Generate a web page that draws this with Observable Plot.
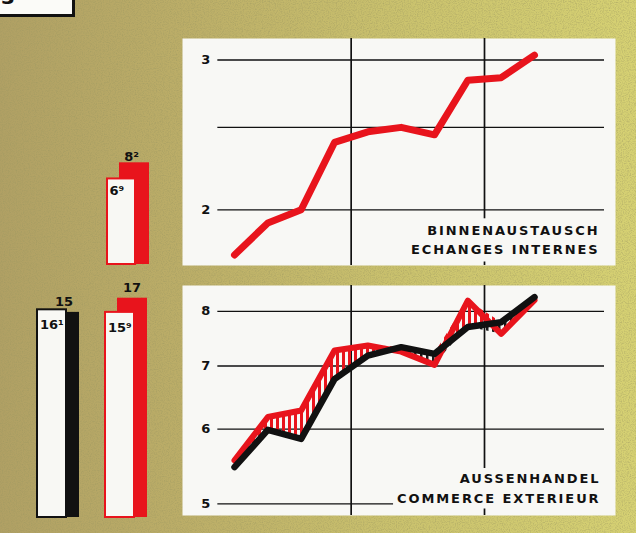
<!DOCTYPE html>
<html>
<head>
<meta charset="utf-8">
<script src="https://cdn.jsdelivr.net/npm/d3@7"></script>
<script src="https://cdn.jsdelivr.net/npm/@observablehq/plot@0.6"></script>
<style>
html, body { margin: 0; padding: 0; background: #c4b86c; }
#stage { position: relative; width: 636px; height: 533px; overflow: hidden;
  background: linear-gradient(90deg, #b0a064 0%, #bcae68 30%, #cbc36e 65%, #d6d173 100%); }
#stage > svg { position: absolute; left: 0; top: 0; }
#tag { position: absolute; left: -3px; top: -6px; width: 73px; height: 18px; background: #fbfbf8;
  border: 2px solid #111; border-right-width: 3px; border-bottom-width: 3px; overflow: hidden; }
#tag span { position: absolute; left: 2px; top: -11px; font: bold 20px "DejaVu Sans", sans-serif; color: #111; letter-spacing: 2px; }
</style>
</head>
<body>
<div id="stage">
  <svg id="tex" width="636" height="533">
    <defs>
      <filter id="noise" x="0" y="0" width="100%" height="100%">
        <feTurbulence type="fractalNoise" baseFrequency="0.85" numOctaves="2" seed="7"/>
        <feColorMatrix type="matrix" values="0 0 0 0 0.33  0 0 0 0 0.31  0 0 0 0 0.12  0 0 0 1.8 -0.75"/>
      </filter>
      <pattern id="hatchRed" patternUnits="userSpaceOnUse" width="6" height="6">
        <rect x="0" y="0" width="3" height="6" fill="#e8141c"/>
      </pattern>
      <pattern id="hatchDark" patternUnits="userSpaceOnUse" width="6" height="6">
        <rect x="0" y="0" width="2.5" height="6" fill="#1a1a1a"/>
      </pattern>
    </defs>
    <rect width="636" height="533" filter="url(#noise)" opacity="0.6"/>
  </svg>
  <div id="tag"><span>3 - 611</span></div>
</div>
<script>
// ---------- data ----------
const quarters = [0, 1, 2, 3, 4, 5, 6, 7, 8, 9];            // quarterly observations
const internalTrade = [1.77, 1.93, 2.00, 2.40, 2.47, 2.50, 2.45, 2.84, 2.86, 3.04];
const foreignRed   = [5.56, 6.18, 6.28, 7.27, 7.36, 7.25, 7.02, 8.21, 7.57, 8.22];
const foreignBlack = [5.47, 5.99, 5.86, 6.78, 7.18, 7.33, 7.21, 7.70, 7.79, 8.28];
const yearBounds = [3.5, 7.5];          // year boundaries in quarter units
const gridFrom = -0.5, gridTo = 11.1;   // extent of horizontal grid (quarter units)
const topTicks = [2, 2.5, 3];
const topTickLabels = [2, 3];
const bottomTicks = [5, 6, 7, 8];

const binGroups = ["Binnen"];
const binWhite = [6.9];
const binColored = [8.2];
const binWhiteLabels = ["6⁹"];
const binColoredLabels = ["8²"];

const extGroups = ["A", "B"];
const extWhite = [16.1, 15.9];
const extColored = [15.9, 17.0];
const extColors = ["#111111", "#e8141c"];
const extWhiteLabels = ["16¹", "15⁹"];
const extColoredLabels = ["15", "17"];

const RED = "#e8141c", BLACK = "#111111", PANEL = "#f8f8f5";
const FONT = "DejaVu Sans, sans-serif";

const internalData = quarters.map((q, i) => ({q, v: internalTrade[i]}));
const foreignData = quarters.map((q, i) => ({q, red: foreignRed[i], black: foreignBlack[i]}));

const stage = document.getElementById("stage");
const xScale = {domain: [-1.56, 11.43], axis: null};
const panelStyle = "background: transparent; overflow: visible; letter-spacing: 1.9px;";

// white knock-out box behind the panel caption (the last text mark of a panel)
function knockout(svg, padX, padY) {
  const groups = svg.querySelectorAll('g[aria-label="text"]');
  const g = groups[groups.length - 1];
  const bb = g.getBBox();
  const r = document.createElementNS("http://www.w3.org/2000/svg", "rect");
  r.setAttribute("x", bb.x - padX);
  r.setAttribute("y", bb.y - padY);
  r.setAttribute("width", bb.width + 2 * padX);
  r.setAttribute("height", bb.height + 2 * padY);
  r.setAttribute("fill", PANEL);
  if (g.getAttribute("transform")) r.setAttribute("transform", g.getAttribute("transform"));
  g.parentNode.insertBefore(r, g);
}

// ---------- top panel: Binnenaustausch ----------
const topPlot = Plot.plot({
  width: 636, height: 533,
  marginLeft: 182, marginRight: 21, marginTop: 38, marginBottom: 268,
  x: xScale,
  y: {type: "log", domain: [1.72, 3.18], axis: null},
  style: panelStyle,
  marks: [
    Plot.frame({fill: PANEL, stroke: null}),
    Plot.ruleY(topTicks, {y: d => d, x1: gridFrom, x2: gridTo, stroke: BLACK, strokeWidth: 1.3}),
    Plot.ruleX(yearBounds, {x: d => d, stroke: BLACK, strokeWidth: 1.7}),
    Plot.text(topTickLabels, {x: gridFrom, y: d => d, text: d => String(d), dx: -11,
      fontFamily: FONT, fontWeight: "bold", fontSize: 13, fill: BLACK}),
    Plot.line(internalData, {x: "q", y: "v", stroke: RED, strokeWidth: 7, strokeLinejoin: "round"}),
    Plot.text(["BINNENAUSTAUSCH\nECHANGES INTERNES"], {
      frameAnchor: "bottom-right", textAnchor: "end", lineAnchor: "bottom", dx: -16, dy: -12,
      lineHeight: 1.4, fontFamily: FONT, fontSize: 13, fontWeight: 600, fill: BLACK})
  ]
});
stage.appendChild(topPlot);
knockout(topPlot, 4, 5);

// ---------- bottom panel: Aussenhandel ----------
const bottomPlot = Plot.plot({
  width: 636, height: 533,
  marginLeft: 182, marginRight: 21, marginTop: 285, marginBottom: 18,
  x: xScale,
  y: {type: "log", domain: [4.86, 8.52], axis: null},
  style: panelStyle,
  marks: [
    Plot.frame({fill: PANEL, stroke: null}),
    Plot.ruleY(bottomTicks, {y: d => d, x1: gridFrom, x2: gridTo, stroke: BLACK, strokeWidth: 1.3}),
    Plot.ruleX(yearBounds, {x: d => d, stroke: BLACK, strokeWidth: 1.7}),
    Plot.text(bottomTicks, {x: gridFrom, y: d => d, text: d => String(d), dx: -11,
      fontFamily: FONT, fontWeight: "bold", fontSize: 13, fill: BLACK}),
    Plot.areaY(foreignData, {x: "q", y1: "black", y2: d => Math.max(d.red, d.black), fill: "url(#hatchRed)"}),
    Plot.areaY(foreignData, {x: "q", y1: d => Math.min(d.red, d.black), y2: "black", fill: "url(#hatchDark)"}),
    Plot.line(foreignData, {x: "q", y: "red", stroke: RED, strokeWidth: 6, strokeLinejoin: "round"}),
    Plot.line(foreignData, {x: "q", y: "black", stroke: BLACK, strokeWidth: 6.5, strokeLinejoin: "round"}),
    Plot.text(["AUSSENHANDEL\nCOMMERCE EXTERIEUR"], {
      frameAnchor: "bottom-right", textAnchor: "end", lineAnchor: "bottom", dx: -15, dy: -13,
      lineHeight: 1.5, fontFamily: FONT, fontSize: 13, fontWeight: 600, fill: BLACK})
  ]
});
stage.appendChild(bottomPlot);
knockout(bottomPlot, 4, 3);

// ---------- bars: internal ----------
const binData = binGroups.map((g, i) => ({g, white: binWhite[i], colored: binColored[i],
  wl: binWhiteLabels[i], cl: binColoredLabels[i]}));
const binBars = Plot.plot({
  width: 636, height: 533, margin: 0,
  x: {type: "band", domain: binGroups, range: [106.7, 135], paddingInner: 0, paddingOuter: 0, axis: null},
  y: {domain: [0, 20], range: [264, 16], axis: null},
  style: "background: transparent; overflow: visible;",
  marks: [
    Plot.barY(binData, {x: "g", y: "colored", fill: RED, dx: 12, insetRight: -2}),
    Plot.barY(binData, {x: "g", y: "white", fill: "#f8f8f4", stroke: RED, strokeWidth: 2}),
    Plot.text(binData, {x: "g", y: "white", text: "wl", textAnchor: "start", lineAnchor: "top",
      dx: -12, dy: 7, fontFamily: FONT, fontWeight: "bold", fontSize: 13, fill: BLACK}),
    Plot.text(binData, {x: "g", y: "colored", text: "cl", lineAnchor: "bottom",
      dx: 10, dy: -2, fontFamily: FONT, fontWeight: "bold", fontSize: 13, fill: BLACK})
  ]
});
stage.appendChild(binBars);

// ---------- bars: foreign ----------
const extData = extGroups.map((g, i) => ({g, white: extWhite[i], colored: extColored[i], color: extColors[i],
  wl: extWhiteLabels[i], cl: extColoredLabels[i]}));
const extBars = Plot.plot({
  width: 636, height: 533, margin: 0,
  x: {type: "band", domain: extGroups, range: [36.7, 134], paddingInner: 0.575, paddingOuter: 0, axis: null},
  y: {domain: [0, 20], range: [517, 259], axis: null},
  color: {type: "identity"},
  style: "background: transparent; overflow: visible;",
  marks: [
    Plot.barY(extData, {x: "g", y: "colored", fill: "color", dx: 12, insetRight: -1}),
    Plot.barY(extData, {x: "g", y: "white", fill: "#f8f8f4", stroke: "color", strokeWidth: 2}),
    Plot.text(extData, {x: "g", y: "white", text: "wl", textAnchor: "start", lineAnchor: "top",
      dx: -12, dy: 10, fontFamily: FONT, fontWeight: "bold", fontSize: 13, fill: BLACK}),
    Plot.text(extData, {x: "g", y: "colored", text: "cl", lineAnchor: "bottom",
      dx: 12, dy: -6, fontFamily: FONT, fontWeight: "bold", fontSize: 13, fill: BLACK})
  ]
});
stage.appendChild(extBars);
</script>
</body>
</html>
